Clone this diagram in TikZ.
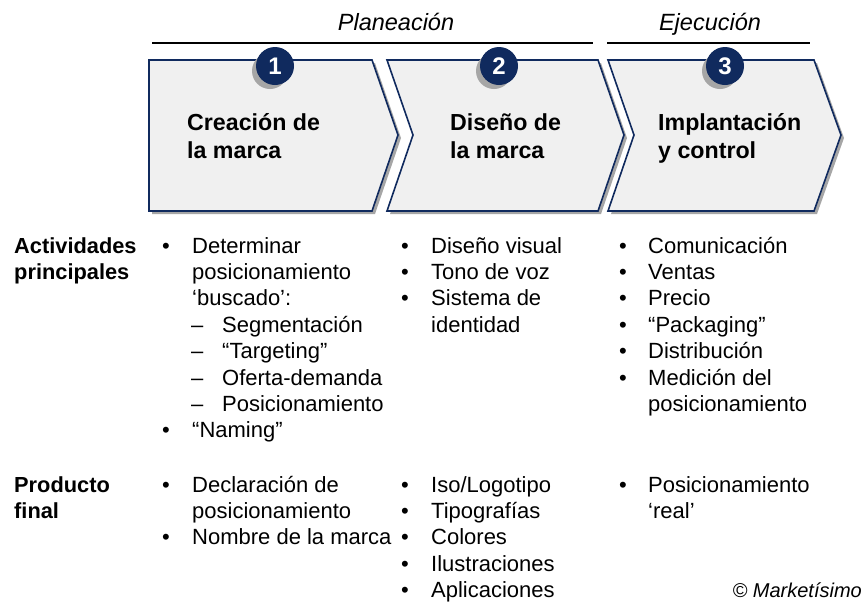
\documentclass[tikz,border=0pt]{standalone}
\usepackage{fontspec}
\setmainfont{Liberation Sans}
\definecolor{navy}{HTML}{102A5E}
\definecolor{boxfill}{HTML}{F0F0F0}
\definecolor{shade}{HTML}{A6A6A6}
\tikzset{
  chev/.style={draw=navy, line width=1.6pt, fill=boxfill, line join=miter},
  chevshadow/.style={fill=shade, draw=none},
  num/.style={circle, fill=navy, text=white, font=\fontsize{24}{28}\selectfont\bfseries, minimum size=38pt, inner sep=0pt},
  numshadow/.style={circle, fill=shade, minimum size=36pt, inner sep=0pt},
  title/.style={anchor=base west, font=\fontsize{23.2}{28}\selectfont\bfseries, inner sep=0pt},
  phase/.style={anchor=base, font=\fontsize{23.5}{28}\selectfont\itshape, inner sep=0pt},
  txt/.style={anchor=base west, font=\fontsize{22}{26}\selectfont, inner sep=0pt},
  hdr/.style={anchor=base west, font=\fontsize{21.8}{26}\selectfont\bfseries, inner sep=0pt},
  bul/.style={anchor=base, font=\fontsize{22}{26}\selectfont, inner sep=0pt},
  rule/.style={line width=1.8pt, black}
}
\begin{document}
\begin{tikzpicture}[x=1pt,y=-1pt]
\useasboundingbox (0,0) rectangle (865,603);
% phases
\node[phase] (plan) at (396,30) {Planeación};
\node[phase] (ejec) at (710,30) {Ejecución};
\coordinate (pl1) at (152,43); \coordinate (pl2) at (593,43);
\coordinate (ej1) at (607,43); \coordinate (ej2) at (810,43);
\draw[rule] (pl1) -- (pl2);
\draw[rule] (ej1) -- (ej2);
% shadows of chevrons
\fill[chevshadow] (152,63) -- (375,63) -- (401,138) -- (375,214) -- (152,214) -- cycle;
\fill[chevshadow] (390,63) -- (601,63) -- (627,138) -- (601,214) -- (390,214) -- (416,138) -- cycle;
\fill[chevshadow] (611,63) -- (817,63) -- (844,138) -- (817,214) -- (611,214) -- (637,138) -- cycle;
% chevrons
\draw[chev] (149,60) -- (372,60) -- (398,135) -- (372,211) -- (149,211) -- cycle;
\draw[chev] (387,60) -- (598,60) -- (624,135) -- (598,211) -- (387,211) -- (413,135) -- cycle;
\draw[chev] (608,60) -- (814,60) -- (841,135) -- (814,211) -- (608,211) -- (634,135) -- cycle;
% numbers
\node[numshadow] (s1) at (270,71) {};
\node[numshadow] (s2) at (494,71) {};
\node[numshadow] (s3) at (720,71) {};
\node[num] (n1) at (275,66) {1};
\node[num] (n2) at (499,66) {2};
\node[num] (n3) at (725,66) {3};
% titles
\node[title] (t1a) at (187,130) {Creación de};
\node[title] (t1b) at (187,158) {la marca};
\node[title] (t2a) at (450,130) {Diseño de};
\node[title] (t2b) at (450,158) {la marca};
\node[title] (t3a) at (658,130) {Implantación};
\node[title] (t3b) at (658,158) {y control};
% row headers
\node[hdr] (h1a) at (14,253) {Actividades};
\node[hdr] (h1b) at (14,279.4) {principales};
\node[hdr] (h2a) at (14,492) {Producto};
\node[hdr] (h2b) at (14,518.4) {final};
% column 1 activities
\node[bul] (b11) at (166,253) {•};
\node[txt] (a11) at (192,253) {Determinar};
\node[txt] (a12) at (192,279.4) {posicionamiento};
\node[txt] (a13) at (192,305.8) {‘buscado’:};
\node[txt] (d14) at (191,332.2) {–};
\node[txt] (a14) at (222,332.2) {Segmentación};
\node[txt] (d15) at (191,358.6) {–};
\node[txt] (a15) at (222,358.6) {“Targeting”};
\node[txt] (d16) at (191,385) {–};
\node[txt] (a16) at (222,385) {Oferta-demanda};
\node[txt] (d17) at (191,411.4) {–};
\node[txt] (a17) at (222,411.4) {Posicionamiento};
\node[bul] (b18) at (166,437.8) {•};
\node[txt] (a18) at (192,437.8) {“Naming”};
% column 2 activities
\node[bul] (b21) at (405,253) {•};
\node[txt] (a21) at (431,253) {Diseño visual};
\node[bul] (b22) at (405,279.4) {•};
\node[txt] (a22) at (431,279.4) {Tono de voz};
\node[bul] (b23) at (405,305.8) {•};
\node[txt] (a23) at (431,305.8) {Sistema de};
\node[txt] (a24) at (431,332.2) {identidad};
% column 3 activities
\node[bul] (b31) at (623,253) {•};
\node[txt] (a31) at (648,253) {Comunicación};
\node[bul] (b32) at (623,279.4) {•};
\node[txt] (a32) at (648,279.4) {Ventas};
\node[bul] (b33) at (623,305.8) {•};
\node[txt] (a33) at (648,305.8) {Precio};
\node[bul] (b34) at (623,332.2) {•};
\node[txt] (a34) at (648,332.2) {“Packaging”};
\node[bul] (b35) at (623,358.6) {•};
\node[txt] (a35) at (648,358.6) {Distribución};
\node[bul] (b36) at (623,385) {•};
\node[txt] (a36) at (648,385) {Medición del};
\node[txt] (a37) at (648,411.4) {posicionamiento};
% product row
\node[bul] (p11b) at (166,492) {•};
\node[txt] (p11) at (192,492) {Declaración de};
\node[txt] (p12) at (192,518.4) {posicionamiento};
\node[bul] (p13b) at (166,544.8) {•};
\node[txt] (p13) at (192,544.8) {Nombre de la marca};
\node[bul] (p21b) at (405,492) {•};
\node[txt] (p21) at (431,492) {Iso/Logotipo};
\node[bul] (p22b) at (405,518.4) {•};
\node[txt] (p22) at (431,518.4) {Tipografías};
\node[bul] (p23b) at (405,544.8) {•};
\node[txt] (p23) at (431,544.8) {Colores};
\node[bul] (p24b) at (405,571.2) {•};
\node[txt] (p24) at (431,571.2) {Ilustraciones};
\node[bul] (p25b) at (405,597.6) {•};
\node[txt] (p25) at (431,597.6) {Aplicaciones};
\node[bul] (p31b) at (623,492) {•};
\node[txt] (p31) at (648,492) {Posicionamiento};
\node[txt] (p32) at (648,518.4) {‘real’};
% copyright
\node[anchor=base east, inner sep=0pt, font=\fontsize{20}{24}\selectfont\itshape] (copy) at (862,597) {© Marketísimo};
\end{tikzpicture}
\end{document}
